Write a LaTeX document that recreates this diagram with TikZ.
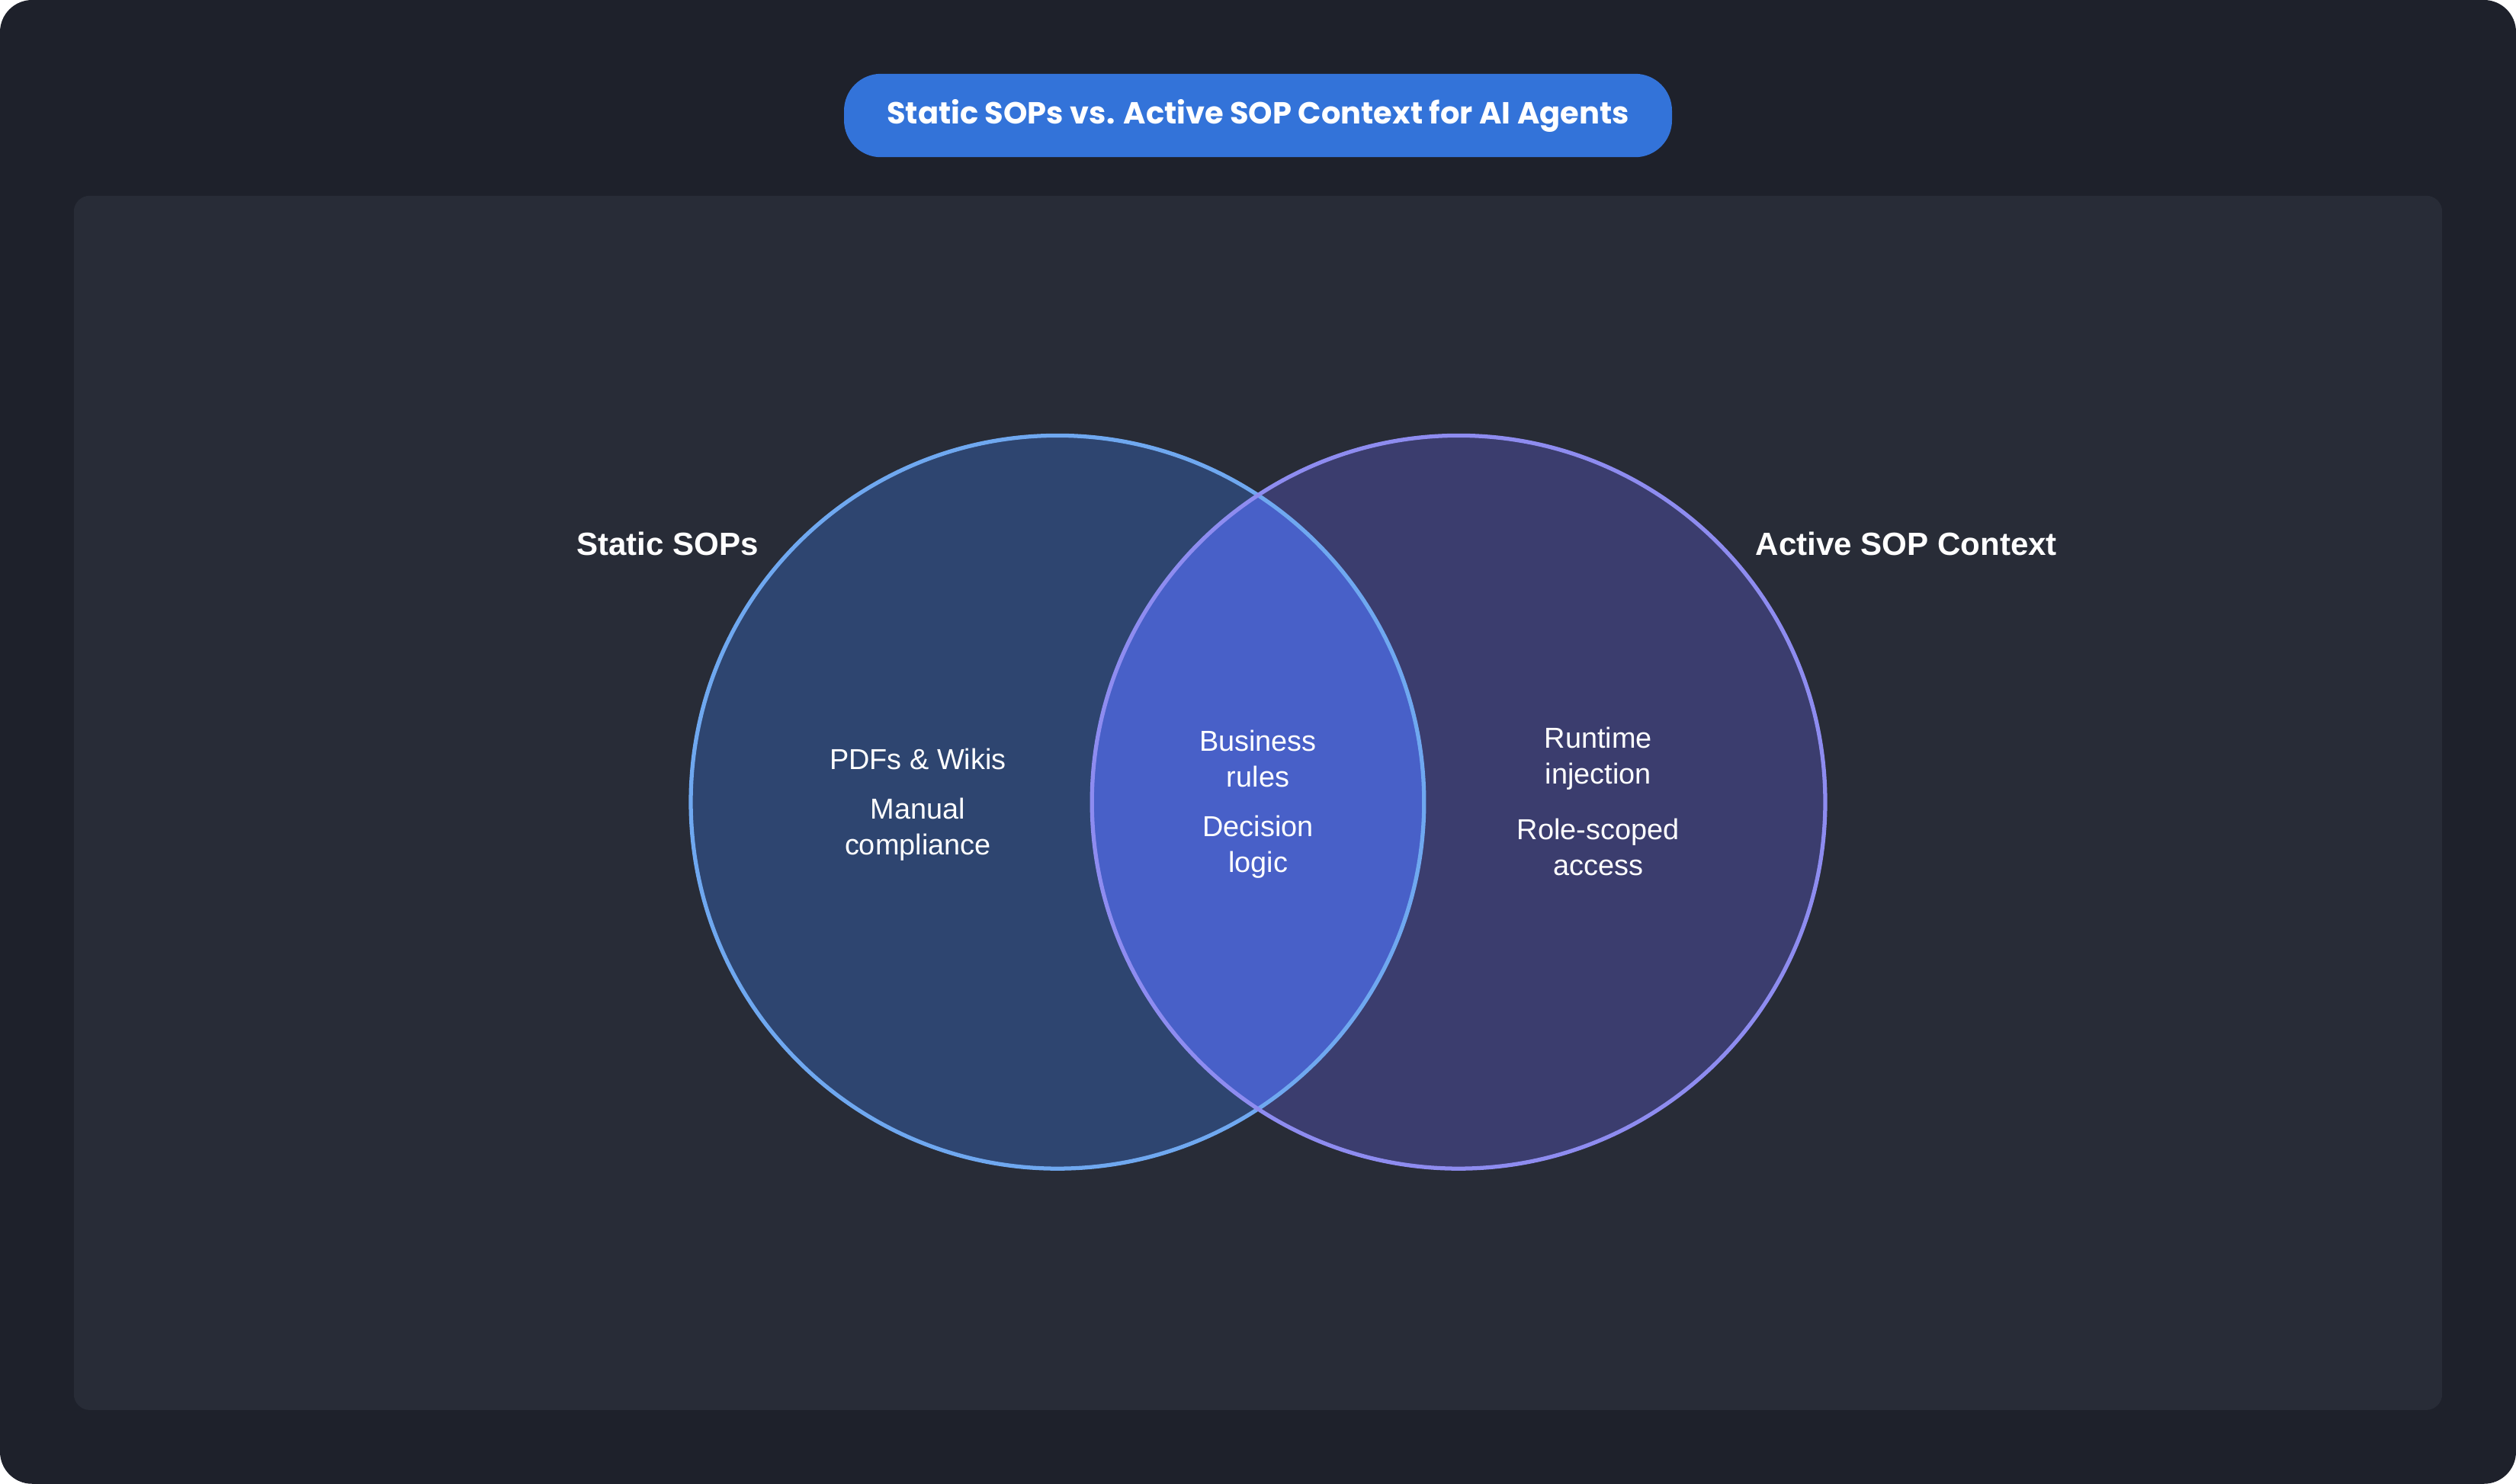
\documentclass[tikz,border=0pt]{standalone}
\usepackage{fontspec}
\setmainfont{Liberation Sans}
\newfontfamily\titlefont{Poppins}
\usetikzlibrary{positioning}
\definecolor{outerbg}{HTML}{1E212B}
\definecolor{panelbg}{HTML}{282C37}
\definecolor{pillblue}{HTML}{3373D9}
\definecolor{leftfill}{HTML}{2E4570}
\definecolor{leftline}{HTML}{6FA8F0}
\definecolor{rightfill}{HTML}{3B3D6E}
\definecolor{rightline}{HTML}{8E8CF0}
\definecolor{midfill}{HTML}{4860C8}
\begin{document}
\begin{tikzpicture}[x=1pt,y=-1pt,
setlabel/.style ={text=white,font=\fontsize{20}{24}\selectfont\bfseries},
item/.style ={text=white,align=center,font=\fontsize{18}{22.5}\selectfont}]

% background and panel
\fill[outerbg,rounded corners=20pt] (0,0) rectangle (1568,925);
\useasboundingbox (0,0) rectangle (1568,925);
\fill[panelbg,rounded corners=10pt] (46,122) rectangle (1522,879);

% title
\node[fill=pillblue,rounded corners=23pt,minimum width=516pt,minimum height=52pt,
  text=white,font=\titlefont\fontsize{19}{22}\selectfont\bfseries] (title) at (784,72)
  {Static SOPs vs. Active SOP Context for AI Agents};

% circles
\fill[leftfill] (659,500) circle (228.5);
\fill[rightfill] (909,500) circle (228.5);
\begin{scope}
\clip (659,500) circle (228.5);
\fill[midfill] (909,500) circle (228.5);
\end{scope}
\draw[leftline,line width=2.5pt] (659,500) circle (228.5);
\draw[rightline,line width=2.5pt] (909,500) circle (228.5);

% set labels
\node[setlabel] (static) at (416,339) {Static SOPs};
\node[setlabel] (active) at (1188,339) {Active SOP Context};

% items
\node[item] (pdfs) at (572,473) {PDFs \& Wikis};
\node[item] (manual) at (572,517) {Manual\\compliance};
\node[item] (rules) at (784,473) {Business\\rules};
\node[item] (logic) at (784,528) {Decision\\logic};
\node[item] (runtime) at (996,473) {Runtime\\injection};
\node[item] (role) at (996,528) {Role-scoped\\access};

\end{tikzpicture}
\end{document}
